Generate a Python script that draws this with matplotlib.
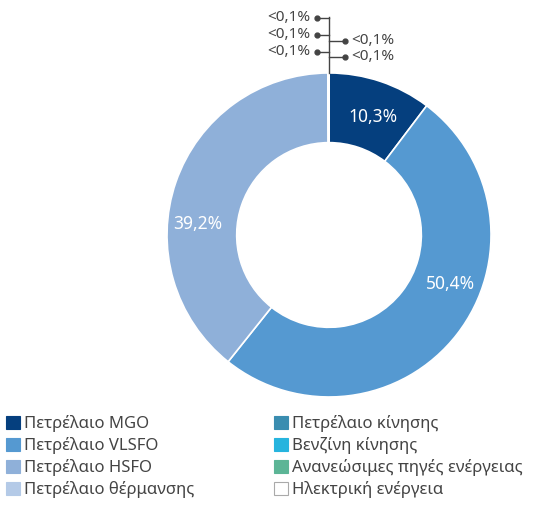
import matplotlib.pyplot as plt
from matplotlib.patches import Patch

plt.rcParams['font.family'] = ['Noto Sans', 'DejaVu Sans']

# Fuel mix shares (%)
fuels = ['Πετρέλαιο MGO', 'Πετρέλαιο VLSFO', 'Πετρέλαιο HSFO',
         'Πετρέλαιο θέρμανσης', 'Πετρέλαιο κίνησης', 'Βενζίνη κίνησης',
         'Ανανεώσιμες πηγές ενέργειας', 'Ηλεκτρική ενέργεια']
shares = [10.3, 50.4, 39.2, 0.02, 0.02, 0.02, 0.02, 0.02]
share_labels = ['10,3%', '50,4%', '39,2%', '<0,1%', '<0,1%', '<0,1%', '<0,1%', '<0,1%']
colors = ['#053f7e', '#5599d1', '#8fb0d9', '#b4cae7',
          '#3a8db0', '#26b4de', '#5cb596', '#ffffff']

fig = plt.figure(figsize=(5.4, 5.05), dpi=100)
ax = fig.add_axes([0.3093, 0.2139, 0.6, 0.6416])

wedges, _ = ax.pie(shares, colors=colors, startangle=90, counterclock=False,
                   radius=1.0, wedgeprops=dict(width=0.43, edgecolor='white', linewidth=1.2))
ax.set_xlim(-1, 1)
ax.set_ylim(-1, 1)
ax.set_aspect('equal')
ax.axis('off')

# big share labels placed inside the ring
big_pos = [(0.27, 0.73), (0.75, -0.30), (-0.81, 0.07)]
for (x, y), lab in zip(big_pos, share_labels[:3]):
    ax.text(x, y, lab, color='white', fontsize=12.5, ha='center', va='center')

# tiny shares: callouts joined to a stem at the top of the ring
line_c = '#444444'
stem_x = 0.0
ax.plot([stem_x, stem_x], [1.0, 1.345], color=line_c, lw=1, clip_on=False)
left_y = [1.34, 1.235, 1.13]
right_y = [1.2, 1.1]
for y, lab in zip(left_y, share_labels[3:6]):
    ax.plot([stem_x, -0.075], [y, y], color=line_c, lw=1, clip_on=False)
    ax.plot(-0.075, y, 'o', color=line_c, ms=3.5, clip_on=False)
    ax.text(-0.115, y, lab, ha='right', va='center', fontsize=11, color=line_c)
for y, lab in zip(right_y, share_labels[6:]):
    ax.plot([stem_x, 0.1], [y, y], color=line_c, lw=1, clip_on=False)
    ax.plot(0.1, y, 'o', color=line_c, ms=3.5, clip_on=False)
    ax.text(0.14, y, lab, ha='left', va='center', fontsize=11, color=line_c)

handles = [Patch(facecolor=c, edgecolor='#aaaaaa' if c == '#ffffff' else c, lw=0.8)
           for c in colors]
leg_kw = dict(frameon=False, fontsize=12, labelspacing=0.3, handlelength=0.8,
              handleheight=0.8, handletextpad=0.25, borderpad=0, borderaxespad=0,
              labelcolor='#444444')
fig.legend(handles[:4], fuels[:4], loc='upper left',
           bbox_to_anchor=(0.012, 0.178), **leg_kw)
fig.legend(handles[4:], fuels[4:], loc='upper left',
           bbox_to_anchor=(0.508, 0.178), **leg_kw)

fig.savefig('out.png', dpi=100)
